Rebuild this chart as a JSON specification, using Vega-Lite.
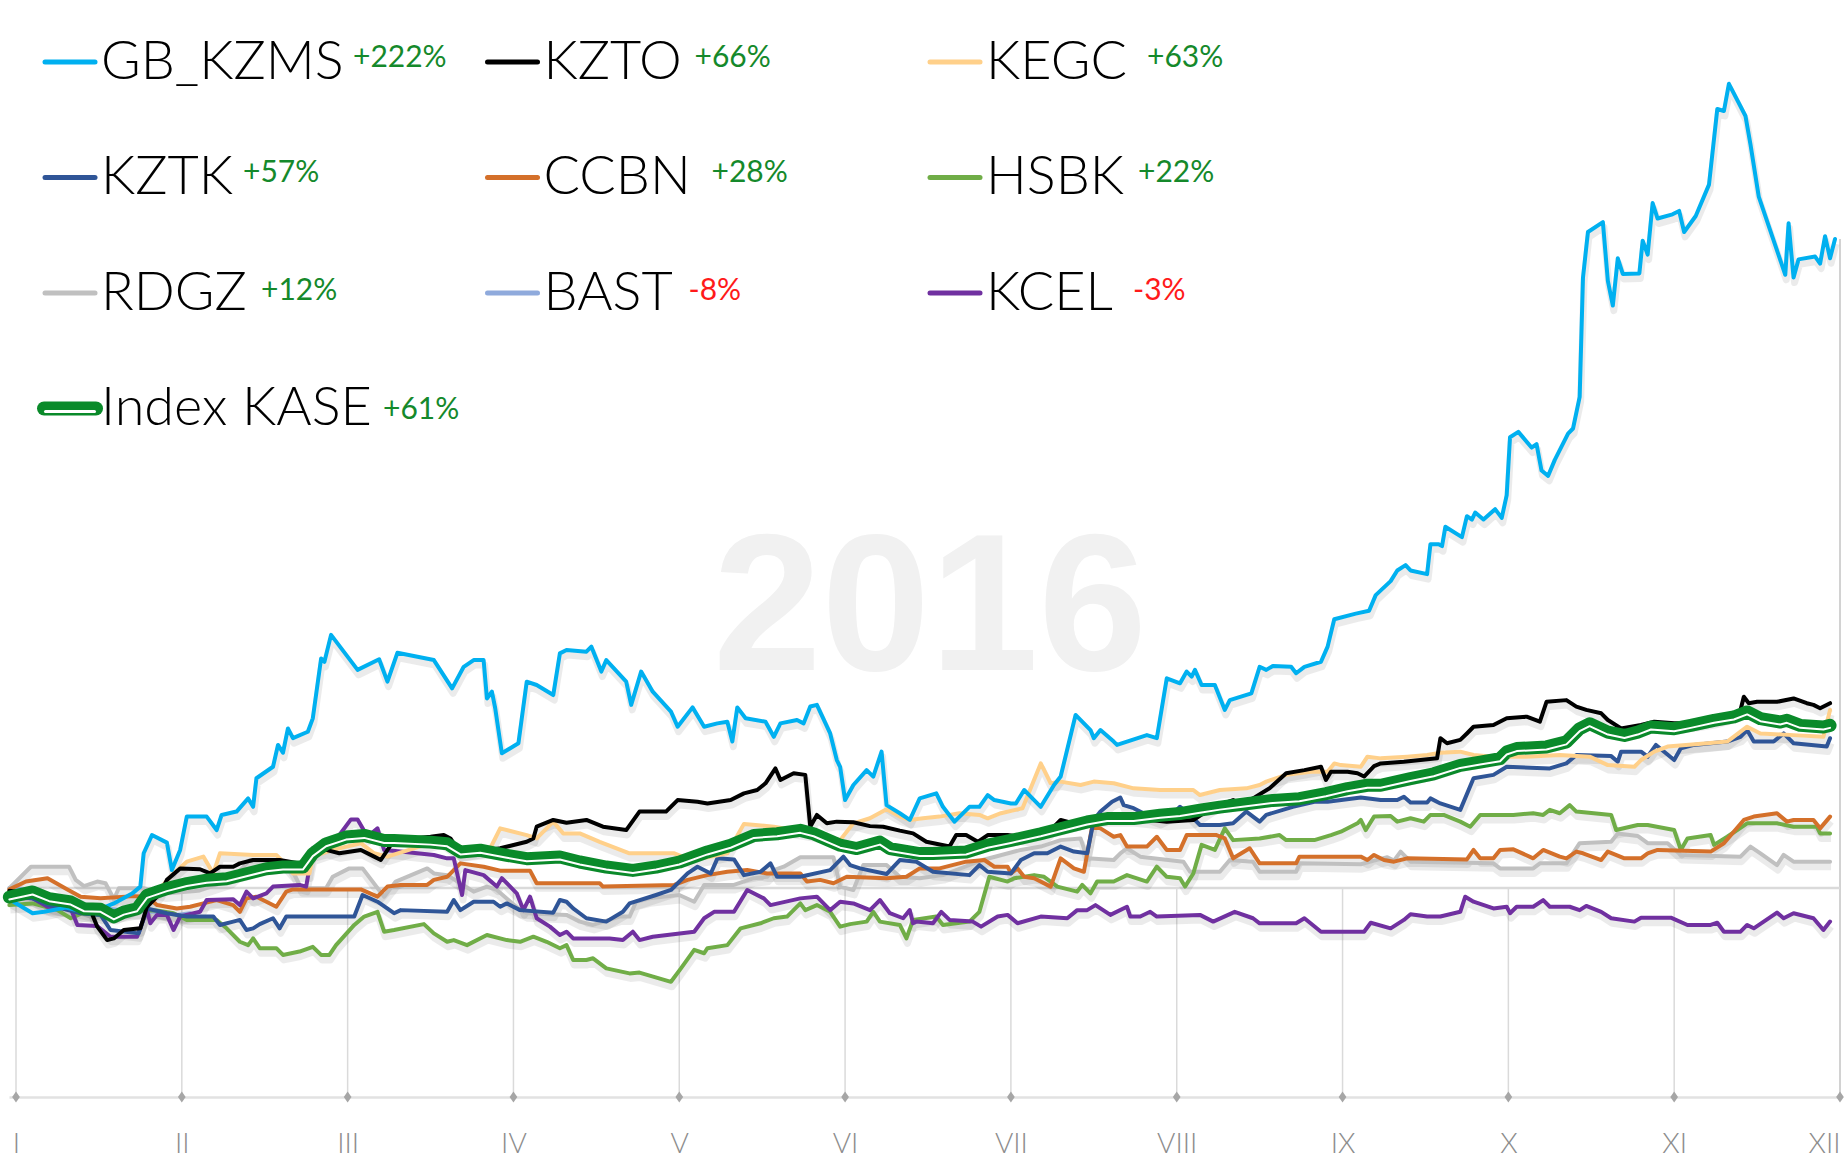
{
"$schema":"https://vega.github.io/schema/vega-lite/v6.json",
"width":1831,"height":1097,
"autosize":{"type":"none"},
"padding":{"left":9,"right":4,"top":0,"bottom":63},
"background":"white",
"config":{"view":{"stroke":null}},
"datasets":{
"legend":[
{"s":"GB_KZMS","pct":"+222%","col":0,"row":0},
{"s":"KZTO","pct":"+66%","col":1,"row":0},
{"s":"KEGC","pct":"+63%","col":2,"row":0},
{"s":"KZTK","pct":"+57%","col":0,"row":1},
{"s":"CCBN","pct":"+28%","col":1,"row":1},
{"s":"HSBK","pct":"+22%","col":2,"row":1},
{"s":"RDGZ","pct":"+12%","col":0,"row":2},
{"s":"BAST","pct":"-8%","col":1,"row":2},
{"s":"KCEL","pct":"-3%","col":2,"row":2},
{"s":"Index KASE","pct":"+61%","col":0,"row":3}
],
"prices":[
{"s":"BAST","t":-0.04,"v":0},{"s":"BAST","t":0.1,"v":-0.8},{"s":"BAST","t":0.2,"v":-2.5},{"s":"BAST","t":0.35,"v":-5},{"s":"BAST","t":0.5,"v":-7},{"s":"BAST","t":0.65,"v":-8},{"s":"BAST","t":0.79,"v":-8.5},{"s":"BAST","t":0.87,"v":-8.6},{"s":"BAST","t":0.97,"v":-9.6},{"s":"BAST","t":1.05,"v":-9},
{"s":"RDGZ","t":-0.04,"v":-0.1},{"s":"RDGZ","t":0.09,"v":7.6},{"s":"RDGZ","t":0.32,"v":7.6},{"s":"RDGZ","t":0.36,"v":2.9},{"s":"RDGZ","t":0.41,"v":0.7},{"s":"RDGZ","t":0.49,"v":2.3},{"s":"RDGZ","t":0.54,"v":1.7},{"s":"RDGZ","t":0.59,"v":-4},{"s":"RDGZ","t":0.62,"v":-0.1},{"s":"RDGZ","t":0.77,"v":-0.1},{"s":"RDGZ","t":0.9,"v":-2},{"s":"RDGZ","t":1.1,"v":-1},{"s":"RDGZ","t":1.3,"v":3},{"s":"RDGZ","t":1.41,"v":10},{"s":"RDGZ","t":1.59,"v":10},{"s":"RDGZ","t":1.65,"v":8.2},{"s":"RDGZ","t":1.72,"v":-0.1},{"s":"RDGZ","t":1.87,"v":-0.1},{"s":"RDGZ","t":1.91,"v":4},{"s":"RDGZ","t":2.01,"v":7},{"s":"RDGZ","t":2.09,"v":7},{"s":"RDGZ","t":2.22,"v":-3.1},{"s":"RDGZ","t":2.29,"v":2.3},{"s":"RDGZ","t":2.48,"v":7},{"s":"RDGZ","t":2.52,"v":5.2},{"s":"RDGZ","t":2.6,"v":4.6},{"s":"RDGZ","t":2.68,"v":1.7},{"s":"RDGZ","t":2.76,"v":-1.3},{"s":"RDGZ","t":2.84,"v":0.5},{"s":"RDGZ","t":2.9,"v":-0.7},{"s":"RDGZ","t":3.04,"v":-7.9},{"s":"RDGZ","t":3.08,"v":-9},{"s":"RDGZ","t":3.32,"v":-9.6},{"s":"RDGZ","t":3.4,"v":-12},{"s":"RDGZ","t":3.48,"v":-13.2},{"s":"RDGZ","t":3.64,"v":-10.2},{"s":"RDGZ","t":3.7,"v":-10.2},{"s":"RDGZ","t":3.74,"v":-4.9},{"s":"RDGZ","t":3.82,"v":-3.7},{"s":"RDGZ","t":4,"v":-2.5},{"s":"RDGZ","t":4.09,"v":-4.9},{"s":"RDGZ","t":4.15,"v":1.1},{"s":"RDGZ","t":4.33,"v":1.1},{"s":"RDGZ","t":4.45,"v":3.5},{"s":"RDGZ","t":4.53,"v":4},{"s":"RDGZ","t":4.57,"v":6.4},{"s":"RDGZ","t":4.63,"v":7.6},{"s":"RDGZ","t":4.73,"v":11},{"s":"RDGZ","t":4.93,"v":11},{"s":"RDGZ","t":4.97,"v":0.5},{"s":"RDGZ","t":5.05,"v":-0.7},{"s":"RDGZ","t":5.11,"v":8.2},{"s":"RDGZ","t":5.25,"v":8.2},{"s":"RDGZ","t":5.33,"v":4},{"s":"RDGZ","t":5.45,"v":3.5},{"s":"RDGZ","t":5.59,"v":4.6},{"s":"RDGZ","t":5.83,"v":10},{"s":"RDGZ","t":6.06,"v":13.6},{"s":"RDGZ","t":6.18,"v":14.8},{"s":"RDGZ","t":6.3,"v":17.1},{"s":"RDGZ","t":6.42,"v":17.7},{"s":"RDGZ","t":6.46,"v":10.6},{"s":"RDGZ","t":6.62,"v":10},{"s":"RDGZ","t":6.66,"v":12.4},{"s":"RDGZ","t":6.7,"v":14.2},{"s":"RDGZ","t":6.78,"v":11.2},{"s":"RDGZ","t":7.04,"v":9.4},{"s":"RDGZ","t":7.08,"v":5.8},{"s":"RDGZ","t":7.26,"v":5.8},{"s":"RDGZ","t":7.32,"v":10},{"s":"RDGZ","t":7.46,"v":9.4},{"s":"RDGZ","t":7.5,"v":5.8},{"s":"RDGZ","t":7.72,"v":5.8},{"s":"RDGZ","t":7.74,"v":8.8},{"s":"RDGZ","t":8.11,"v":8.5},{"s":"RDGZ","t":8.19,"v":9.8},{"s":"RDGZ","t":8.27,"v":11},{"s":"RDGZ","t":8.31,"v":9.8},{"s":"RDGZ","t":8.35,"v":13},{"s":"RDGZ","t":8.41,"v":9.4},{"s":"RDGZ","t":8.91,"v":8.8},{"s":"RDGZ","t":8.95,"v":7},{"s":"RDGZ","t":9.15,"v":7},{"s":"RDGZ","t":9.19,"v":8.8},{"s":"RDGZ","t":9.35,"v":8.8},{"s":"RDGZ","t":9.43,"v":16},{"s":"RDGZ","t":9.62,"v":16.5},{"s":"RDGZ","t":9.66,"v":19.5},{"s":"RDGZ","t":9.78,"v":18.6},{"s":"RDGZ","t":9.84,"v":16},{"s":"RDGZ","t":9.96,"v":16},{"s":"RDGZ","t":10.04,"v":11.8},{"s":"RDGZ","t":10.4,"v":11.2},{"s":"RDGZ","t":10.46,"v":14.8},{"s":"RDGZ","t":10.52,"v":12.4},{"s":"RDGZ","t":10.62,"v":8.2},{"s":"RDGZ","t":10.66,"v":11.8},{"s":"RDGZ","t":10.72,"v":9.4},{"s":"RDGZ","t":10.94,"v":9.4},
{"s":"HSBK","t":-0.04,"v":-6.1},{"s":"HSBK","t":0.1,"v":-5.5},{"s":"HSBK","t":0.25,"v":-7.9},{"s":"HSBK","t":0.33,"v":-10.8},{"s":"HSBK","t":0.4,"v":-9},{"s":"HSBK","t":0.55,"v":-10},{"s":"HSBK","t":0.75,"v":-8},{"s":"HSBK","t":0.85,"v":-8},{"s":"HSBK","t":0.95,"v":-9},{"s":"HSBK","t":1.03,"v":-11.4},{"s":"HSBK","t":1.21,"v":-11.4},{"s":"HSBK","t":1.27,"v":-14.4},{"s":"HSBK","t":1.35,"v":-19.2},{"s":"HSBK","t":1.4,"v":-20.4},{"s":"HSBK","t":1.43,"v":-18},{"s":"HSBK","t":1.47,"v":-21.5},{"s":"HSBK","t":1.57,"v":-21.5},{"s":"HSBK","t":1.61,"v":-23.9},{"s":"HSBK","t":1.71,"v":-22.7},{"s":"HSBK","t":1.79,"v":-21},{"s":"HSBK","t":1.84,"v":-23.9},{"s":"HSBK","t":1.89,"v":-23.9},{"s":"HSBK","t":1.93,"v":-20.4},{"s":"HSBK","t":2.04,"v":-13.2},{"s":"HSBK","t":2.1,"v":-10.2},{"s":"HSBK","t":2.18,"v":-8.5},{"s":"HSBK","t":2.22,"v":-15.6},{"s":"HSBK","t":2.28,"v":-15},{"s":"HSBK","t":2.46,"v":-12.9},{"s":"HSBK","t":2.52,"v":-16.2},{"s":"HSBK","t":2.6,"v":-19.2},{"s":"HSBK","t":2.64,"v":-18.6},{"s":"HSBK","t":2.72,"v":-20.4},{"s":"HSBK","t":2.84,"v":-16.8},{"s":"HSBK","t":2.96,"v":-18.6},{"s":"HSBK","t":3.04,"v":-19.2},{"s":"HSBK","t":3.12,"v":-17.4},{"s":"HSBK","t":3.2,"v":-19.2},{"s":"HSBK","t":3.28,"v":-21.5},{"s":"HSBK","t":3.32,"v":-20.4},{"s":"HSBK","t":3.36,"v":-25.7},{"s":"HSBK","t":3.44,"v":-25.7},{"s":"HSBK","t":3.48,"v":-25.1},{"s":"HSBK","t":3.56,"v":-28.7},{"s":"HSBK","t":3.7,"v":-30.5},{"s":"HSBK","t":3.76,"v":-30.2},{"s":"HSBK","t":3.95,"v":-33.5},{"s":"HSBK","t":4.01,"v":-28.7},{"s":"HSBK","t":4.09,"v":-22.1},{"s":"HSBK","t":4.15,"v":-23.3},{"s":"HSBK","t":4.17,"v":-21.5},{"s":"HSBK","t":4.29,"v":-20.4},{"s":"HSBK","t":4.37,"v":-14.4},{"s":"HSBK","t":4.49,"v":-12.6},{"s":"HSBK","t":4.57,"v":-10.8},{"s":"HSBK","t":4.65,"v":-10.2},{"s":"HSBK","t":4.73,"v":-5.5},{"s":"HSBK","t":4.76,"v":-7.9},{"s":"HSBK","t":4.83,"v":-6.1},{"s":"HSBK","t":4.91,"v":-8.5},{"s":"HSBK","t":4.97,"v":-13.8},{"s":"HSBK","t":5.03,"v":-12.9},{"s":"HSBK","t":5.13,"v":-12},{"s":"HSBK","t":5.17,"v":-8.5},{"s":"HSBK","t":5.21,"v":-12},{"s":"HSBK","t":5.33,"v":-13.2},{"s":"HSBK","t":5.37,"v":-18},{"s":"HSBK","t":5.41,"v":-11.4},{"s":"HSBK","t":5.55,"v":-10.2},{"s":"HSBK","t":5.59,"v":-13.2},{"s":"HSBK","t":5.75,"v":-12},{"s":"HSBK","t":5.81,"v":-8.5},{"s":"HSBK","t":5.87,"v":4},{"s":"HSBK","t":5.98,"v":2.3},{"s":"HSBK","t":6.02,"v":3.5},{"s":"HSBK","t":6.14,"v":4.6},{"s":"HSBK","t":6.2,"v":4},{"s":"HSBK","t":6.28,"v":0.5},{"s":"HSBK","t":6.4,"v":-1.3},{"s":"HSBK","t":6.43,"v":1.1},{"s":"HSBK","t":6.48,"v":-1.9},{"s":"HSBK","t":6.52,"v":2.3},{"s":"HSBK","t":6.62,"v":2.3},{"s":"HSBK","t":6.7,"v":4.6},{"s":"HSBK","t":6.82,"v":2.3},{"s":"HSBK","t":6.88,"v":7.6},{"s":"HSBK","t":6.94,"v":4},{"s":"HSBK","t":7.02,"v":3.5},{"s":"HSBK","t":7.05,"v":0.5},{"s":"HSBK","t":7.1,"v":5.2},{"s":"HSBK","t":7.15,"v":15.4},{"s":"HSBK","t":7.23,"v":13.6},{"s":"HSBK","t":7.29,"v":21.3},{"s":"HSBK","t":7.34,"v":17.1},{"s":"HSBK","t":7.5,"v":17.7},{"s":"HSBK","t":7.62,"v":18.9},{"s":"HSBK","t":7.66,"v":17.1},{"s":"HSBK","t":7.83,"v":17.1},{"s":"HSBK","t":7.93,"v":18.9},{"s":"HSBK","t":7.99,"v":20.1},{"s":"HSBK","t":8.09,"v":23.1},{"s":"HSBK","t":8.11,"v":24.3},{"s":"HSBK","t":8.14,"v":20.7},{"s":"HSBK","t":8.19,"v":25.5},{"s":"HSBK","t":8.29,"v":25.7},{"s":"HSBK","t":8.33,"v":23.7},{"s":"HSBK","t":8.41,"v":24.9},{"s":"HSBK","t":8.49,"v":23.7},{"s":"HSBK","t":8.53,"v":26.1},{"s":"HSBK","t":8.61,"v":26.1},{"s":"HSBK","t":8.71,"v":23.7},{"s":"HSBK","t":8.77,"v":21.9},{"s":"HSBK","t":8.83,"v":26.1},{"s":"HSBK","t":9.03,"v":26.1},{"s":"HSBK","t":9.15,"v":26.7},{"s":"HSBK","t":9.21,"v":26.1},{"s":"HSBK","t":9.25,"v":27.9},{"s":"HSBK","t":9.31,"v":26.7},{"s":"HSBK","t":9.37,"v":29.6},{"s":"HSBK","t":9.41,"v":27.3},{"s":"HSBK","t":9.62,"v":26.1},{"s":"HSBK","t":9.65,"v":20.7},{"s":"HSBK","t":9.78,"v":22.5},{"s":"HSBK","t":9.84,"v":22.5},{"s":"HSBK","t":10,"v":20.7},{"s":"HSBK","t":10.04,"v":13.6},{"s":"HSBK","t":10.08,"v":17.7},{"s":"HSBK","t":10.22,"v":18.9},{"s":"HSBK","t":10.24,"v":15.4},{"s":"HSBK","t":10.32,"v":18.3},{"s":"HSBK","t":10.44,"v":23.1},{"s":"HSBK","t":10.62,"v":23.1},{"s":"HSBK","t":10.72,"v":21.9},{"s":"HSBK","t":10.86,"v":21.9},{"s":"HSBK","t":10.88,"v":19.5},{"s":"HSBK","t":10.94,"v":19.5},
{"s":"CCBN","t":-0.04,"v":-0.5},{"s":"CCBN","t":0.06,"v":2.3},{"s":"CCBN","t":0.19,"v":3.5},{"s":"CCBN","t":0.31,"v":-0.5},{"s":"CCBN","t":0.39,"v":-3.1},{"s":"CCBN","t":0.51,"v":-3.7},{"s":"CCBN","t":0.71,"v":-2.9},{"s":"CCBN","t":0.79,"v":-3.1},{"s":"CCBN","t":0.85,"v":-6.1},{"s":"CCBN","t":0.97,"v":-7.3},{"s":"CCBN","t":1.05,"v":-6.7},{"s":"CCBN","t":1.13,"v":-5.5},{"s":"CCBN","t":1.21,"v":-4.3},{"s":"CCBN","t":1.31,"v":-6.1},{"s":"CCBN","t":1.35,"v":-8.5},{"s":"CCBN","t":1.39,"v":-3.7},{"s":"CCBN","t":1.45,"v":-3.1},{"s":"CCBN","t":1.57,"v":-6.7},{"s":"CCBN","t":1.63,"v":-1.3},{"s":"CCBN","t":1.67,"v":-0.5},{"s":"CCBN","t":2.08,"v":-0.5},{"s":"CCBN","t":2.18,"v":-3.1},{"s":"CCBN","t":2.24,"v":0.5},{"s":"CCBN","t":2.32,"v":1.1},{"s":"CCBN","t":2.48,"v":1.1},{"s":"CCBN","t":2.52,"v":2.9},{"s":"CCBN","t":2.6,"v":4},{"s":"CCBN","t":2.68,"v":8.8},{"s":"CCBN","t":2.82,"v":7.6},{"s":"CCBN","t":2.92,"v":6.2},{"s":"CCBN","t":3.1,"v":6.2},{"s":"CCBN","t":3.14,"v":1.7},{"s":"CCBN","t":3.52,"v":1.7},{"s":"CCBN","t":3.54,"v":0.5},{"s":"CCBN","t":3.97,"v":1.1},{"s":"CCBN","t":4.05,"v":2.9},{"s":"CCBN","t":4.17,"v":4.6},{"s":"CCBN","t":4.29,"v":5.8},{"s":"CCBN","t":4.41,"v":6.4},{"s":"CCBN","t":4.53,"v":5.2},{"s":"CCBN","t":4.73,"v":5.2},{"s":"CCBN","t":4.77,"v":2.3},{"s":"CCBN","t":4.85,"v":2.9},{"s":"CCBN","t":4.93,"v":1.7},{"s":"CCBN","t":5.01,"v":4},{"s":"CCBN","t":5.25,"v":3.5},{"s":"CCBN","t":5.37,"v":4},{"s":"CCBN","t":5.45,"v":7},{"s":"CCBN","t":5.57,"v":7},{"s":"CCBN","t":5.73,"v":9.4},{"s":"CCBN","t":5.84,"v":10},{"s":"CCBN","t":5.9,"v":7.6},{"s":"CCBN","t":5.98,"v":7.6},{"s":"CCBN","t":6,"v":5.2},{"s":"CCBN","t":6.04,"v":7},{"s":"CCBN","t":6.08,"v":4},{"s":"CCBN","t":6.14,"v":3.5},{"s":"CCBN","t":6.24,"v":0.5},{"s":"CCBN","t":6.3,"v":10.6},{"s":"CCBN","t":6.38,"v":7},{"s":"CCBN","t":6.44,"v":5.8},{"s":"CCBN","t":6.49,"v":21.9},{"s":"CCBN","t":6.54,"v":21.3},{"s":"CCBN","t":6.62,"v":18.3},{"s":"CCBN","t":6.66,"v":18.9},{"s":"CCBN","t":6.7,"v":14.8},{"s":"CCBN","t":6.82,"v":14.8},{"s":"CCBN","t":6.88,"v":18.3},{"s":"CCBN","t":6.94,"v":13.6},{"s":"CCBN","t":7.02,"v":13.6},{"s":"CCBN","t":7.06,"v":18.9},{"s":"CCBN","t":7.24,"v":18.9},{"s":"CCBN","t":7.29,"v":17.7},{"s":"CCBN","t":7.34,"v":10.6},{"s":"CCBN","t":7.44,"v":14.2},{"s":"CCBN","t":7.5,"v":8.8},{"s":"CCBN","t":7.72,"v":8.8},{"s":"CCBN","t":7.74,"v":11.2},{"s":"CCBN","t":8.11,"v":11.2},{"s":"CCBN","t":8.15,"v":10},{"s":"CCBN","t":8.19,"v":11.8},{"s":"CCBN","t":8.25,"v":10},{"s":"CCBN","t":8.31,"v":9.4},{"s":"CCBN","t":8.39,"v":10.6},{"s":"CCBN","t":8.75,"v":10.2},{"s":"CCBN","t":8.79,"v":13.6},{"s":"CCBN","t":8.83,"v":10.6},{"s":"CCBN","t":8.91,"v":10.6},{"s":"CCBN","t":8.95,"v":13.6},{"s":"CCBN","t":9.03,"v":13.8},{"s":"CCBN","t":9.15,"v":10.6},{"s":"CCBN","t":9.21,"v":13.6},{"s":"CCBN","t":9.31,"v":11.2},{"s":"CCBN","t":9.35,"v":10.6},{"s":"CCBN","t":9.41,"v":13},{"s":"CCBN","t":9.45,"v":12.4},{"s":"CCBN","t":9.56,"v":10},{"s":"CCBN","t":9.6,"v":13},{"s":"CCBN","t":9.7,"v":10.6},{"s":"CCBN","t":9.8,"v":10.6},{"s":"CCBN","t":9.84,"v":12.4},{"s":"CCBN","t":9.9,"v":13.6},{"s":"CCBN","t":10.22,"v":13},{"s":"CCBN","t":10.3,"v":16},{"s":"CCBN","t":10.42,"v":24.3},{"s":"CCBN","t":10.48,"v":25.5},{"s":"CCBN","t":10.62,"v":26.7},{"s":"CCBN","t":10.68,"v":23.7},{"s":"CCBN","t":10.72,"v":24.3},{"s":"CCBN","t":10.84,"v":24.3},{"s":"CCBN","t":10.88,"v":21.3},{"s":"CCBN","t":10.94,"v":25.5},
{"s":"KCEL","t":-0.04,"v":-3.1},{"s":"KCEL","t":0.1,"v":-3.7},{"s":"KCEL","t":0.19,"v":-6.7},{"s":"KCEL","t":0.33,"v":-7.3},{"s":"KCEL","t":0.37,"v":-13.2},{"s":"KCEL","t":0.49,"v":-13.6},{"s":"KCEL","t":0.57,"v":-17.4},{"s":"KCEL","t":0.73,"v":-17.4},{"s":"KCEL","t":0.79,"v":-7.9},{"s":"KCEL","t":0.81,"v":-12.6},{"s":"KCEL","t":0.85,"v":-9.6},{"s":"KCEL","t":0.91,"v":-9.6},{"s":"KCEL","t":0.95,"v":-15},{"s":"KCEL","t":0.99,"v":-10.2},{"s":"KCEL","t":1.11,"v":-8.5},{"s":"KCEL","t":1.15,"v":-4.3},{"s":"KCEL","t":1.31,"v":-4},{"s":"KCEL","t":1.35,"v":-6.1},{"s":"KCEL","t":1.39,"v":-1.3},{"s":"KCEL","t":1.43,"v":-3.7},{"s":"KCEL","t":1.51,"v":-1.9},{"s":"KCEL","t":1.55,"v":0.5},{"s":"KCEL","t":1.71,"v":1.1},{"s":"KCEL","t":1.75,"v":0.5},{"s":"KCEL","t":1.79,"v":14.2},{"s":"KCEL","t":1.91,"v":15.7},{"s":"KCEL","t":2.02,"v":24.5},{"s":"KCEL","t":2.06,"v":24.5},{"s":"KCEL","t":2.12,"v":18.3},{"s":"KCEL","t":2.18,"v":21.3},{"s":"KCEL","t":2.22,"v":13.6},{"s":"KCEL","t":2.32,"v":13},{"s":"KCEL","t":2.52,"v":11.8},{"s":"KCEL","t":2.6,"v":10.6},{"s":"KCEL","t":2.64,"v":10.6},{"s":"KCEL","t":2.69,"v":-2.5},{"s":"KCEL","t":2.71,"v":6.4},{"s":"KCEL","t":2.82,"v":4.6},{"s":"KCEL","t":2.9,"v":0.5},{"s":"KCEL","t":2.93,"v":3.5},{"s":"KCEL","t":3.02,"v":-1.9},{"s":"KCEL","t":3.06,"v":-7.9},{"s":"KCEL","t":3.1,"v":-3.1},{"s":"KCEL","t":3.14,"v":-10.8},{"s":"KCEL","t":3.22,"v":-13.8},{"s":"KCEL","t":3.28,"v":-16.8},{"s":"KCEL","t":3.32,"v":-15.6},{"s":"KCEL","t":3.36,"v":-18},{"s":"KCEL","t":3.58,"v":-18},{"s":"KCEL","t":3.66,"v":-18.6},{"s":"KCEL","t":3.72,"v":-15.6},{"s":"KCEL","t":3.76,"v":-18.6},{"s":"KCEL","t":3.84,"v":-17.4},{"s":"KCEL","t":4.09,"v":-15.6},{"s":"KCEL","t":4.15,"v":-10.8},{"s":"KCEL","t":4.21,"v":-8.5},{"s":"KCEL","t":4.33,"v":-8.5},{"s":"KCEL","t":4.41,"v":-0.7},{"s":"KCEL","t":4.51,"v":-3.7},{"s":"KCEL","t":4.55,"v":-6.1},{"s":"KCEL","t":4.73,"v":-3.7},{"s":"KCEL","t":4.83,"v":-3.1},{"s":"KCEL","t":4.91,"v":-7.9},{"s":"KCEL","t":4.97,"v":-4.9},{"s":"KCEL","t":5.05,"v":-5.5},{"s":"KCEL","t":5.15,"v":-7.9},{"s":"KCEL","t":5.21,"v":-4.3},{"s":"KCEL","t":5.27,"v":-9},{"s":"KCEL","t":5.35,"v":-10.8},{"s":"KCEL","t":5.39,"v":-7.9},{"s":"KCEL","t":5.41,"v":-12.6},{"s":"KCEL","t":5.43,"v":-12},{"s":"KCEL","t":5.53,"v":-12.6},{"s":"KCEL","t":5.58,"v":-8.5},{"s":"KCEL","t":5.63,"v":-11.4},{"s":"KCEL","t":5.77,"v":-12},{"s":"KCEL","t":5.82,"v":-13.8},{"s":"KCEL","t":5.92,"v":-10.2},{"s":"KCEL","t":5.98,"v":-9.6},{"s":"KCEL","t":6.04,"v":-12.6},{"s":"KCEL","t":6.18,"v":-10.2},{"s":"KCEL","t":6.34,"v":-10.8},{"s":"KCEL","t":6.4,"v":-7.9},{"s":"KCEL","t":6.46,"v":-7.9},{"s":"KCEL","t":6.51,"v":-6.1},{"s":"KCEL","t":6.6,"v":-9.6},{"s":"KCEL","t":6.7,"v":-6.7},{"s":"KCEL","t":6.72,"v":-10.2},{"s":"KCEL","t":6.78,"v":-10.2},{"s":"KCEL","t":6.84,"v":-8.5},{"s":"KCEL","t":6.88,"v":-10.2},{"s":"KCEL","t":7.14,"v":-9.6},{"s":"KCEL","t":7.22,"v":-12},{"s":"KCEL","t":7.35,"v":-8.5},{"s":"KCEL","t":7.46,"v":-10.8},{"s":"KCEL","t":7.5,"v":-12.6},{"s":"KCEL","t":7.72,"v":-12.6},{"s":"KCEL","t":7.77,"v":-10.8},{"s":"KCEL","t":7.87,"v":-15.6},{"s":"KCEL","t":8.13,"v":-15.6},{"s":"KCEL","t":8.17,"v":-12.4},{"s":"KCEL","t":8.29,"v":-14.4},{"s":"KCEL","t":8.37,"v":-11.4},{"s":"KCEL","t":8.41,"v":-9.4},{"s":"KCEL","t":8.51,"v":-10.2},{"s":"KCEL","t":8.59,"v":-10.2},{"s":"KCEL","t":8.71,"v":-8.5},{"s":"KCEL","t":8.74,"v":-3.1},{"s":"KCEL","t":8.79,"v":-4.9},{"s":"KCEL","t":8.91,"v":-7.3},{"s":"KCEL","t":8.99,"v":-6.7},{"s":"KCEL","t":9.01,"v":-9},{"s":"KCEL","t":9.05,"v":-6.7},{"s":"KCEL","t":9.15,"v":-6.7},{"s":"KCEL","t":9.21,"v":-4.3},{"s":"KCEL","t":9.25,"v":-6.7},{"s":"KCEL","t":9.37,"v":-6.7},{"s":"KCEL","t":9.43,"v":-7.9},{"s":"KCEL","t":9.47,"v":-6.4},{"s":"KCEL","t":9.56,"v":-8.5},{"s":"KCEL","t":9.62,"v":-10.8},{"s":"KCEL","t":9.76,"v":-12},{"s":"KCEL","t":9.8,"v":-10.6},{"s":"KCEL","t":9.98,"v":-10.6},{"s":"KCEL","t":10.08,"v":-13.2},{"s":"KCEL","t":10.22,"v":-13.2},{"s":"KCEL","t":10.26,"v":-12.4},{"s":"KCEL","t":10.3,"v":-15.6},{"s":"KCEL","t":10.4,"v":-15.6},{"s":"KCEL","t":10.44,"v":-13.2},{"s":"KCEL","t":10.48,"v":-14.4},{"s":"KCEL","t":10.62,"v":-8.8},{"s":"KCEL","t":10.66,"v":-10.8},{"s":"KCEL","t":10.72,"v":-9},{"s":"KCEL","t":10.84,"v":-10.8},{"s":"KCEL","t":10.9,"v":-15},{"s":"KCEL","t":10.94,"v":-12},
{"s":"KZTK","t":-0.04,"v":-3.1},{"s":"KZTK","t":0.1,"v":-3.7},{"s":"KZTK","t":0.2,"v":-6.1},{"s":"KZTK","t":0.39,"v":-9},{"s":"KZTK","t":0.51,"v":-9.6},{"s":"KZTK","t":0.57,"v":-15},{"s":"KZTK","t":0.74,"v":-16.2},{"s":"KZTK","t":0.79,"v":-7.3},{"s":"KZTK","t":0.91,"v":-9},{"s":"KZTK","t":1.03,"v":-10.2},{"s":"KZTK","t":1.19,"v":-10.2},{"s":"KZTK","t":1.23,"v":-13.2},{"s":"KZTK","t":1.31,"v":-12},{"s":"KZTK","t":1.35,"v":-11.4},{"s":"KZTK","t":1.39,"v":-15},{"s":"KZTK","t":1.43,"v":-14.4},{"s":"KZTK","t":1.47,"v":-12.9},{"s":"KZTK","t":1.55,"v":-10.8},{"s":"KZTK","t":1.59,"v":-14.4},{"s":"KZTK","t":1.63,"v":-10.2},{"s":"KZTK","t":2.04,"v":-10.2},{"s":"KZTK","t":2.09,"v":-2.5},{"s":"KZTK","t":2.18,"v":-4.9},{"s":"KZTK","t":2.28,"v":-9},{"s":"KZTK","t":2.32,"v":-7.9},{"s":"KZTK","t":2.6,"v":-8.5},{"s":"KZTK","t":2.64,"v":-4.3},{"s":"KZTK","t":2.68,"v":-7.9},{"s":"KZTK","t":2.76,"v":-4.9},{"s":"KZTK","t":2.88,"v":-4.9},{"s":"KZTK","t":2.92,"v":-6.7},{"s":"KZTK","t":2.96,"v":-5.5},{"s":"KZTK","t":3.04,"v":-7.9},{"s":"KZTK","t":3.24,"v":-8.8},{"s":"KZTK","t":3.28,"v":-4.3},{"s":"KZTK","t":3.32,"v":-4.9},{"s":"KZTK","t":3.36,"v":-7.3},{"s":"KZTK","t":3.44,"v":-10.8},{"s":"KZTK","t":3.56,"v":-12},{"s":"KZTK","t":3.66,"v":-8.5},{"s":"KZTK","t":3.7,"v":-5.5},{"s":"KZTK","t":3.86,"v":-2.5},{"s":"KZTK","t":3.95,"v":-0.7},{"s":"KZTK","t":4.05,"v":5.2},{"s":"KZTK","t":4.11,"v":7.6},{"s":"KZTK","t":4.19,"v":5.2},{"s":"KZTK","t":4.23,"v":10.6},{"s":"KZTK","t":4.33,"v":10.2},{"s":"KZTK","t":4.39,"v":4.6},{"s":"KZTK","t":4.49,"v":5.8},{"s":"KZTK","t":4.55,"v":8.8},{"s":"KZTK","t":4.59,"v":4},{"s":"KZTK","t":4.73,"v":4},{"s":"KZTK","t":4.91,"v":6.4},{"s":"KZTK","t":4.99,"v":11.2},{"s":"KZTK","t":5.03,"v":8.2},{"s":"KZTK","t":5.09,"v":7},{"s":"KZTK","t":5.25,"v":5},{"s":"KZTK","t":5.33,"v":10},{"s":"KZTK","t":5.43,"v":9.4},{"s":"KZTK","t":5.53,"v":5.8},{"s":"KZTK","t":5.75,"v":4.6},{"s":"KZTK","t":5.81,"v":8.2},{"s":"KZTK","t":5.86,"v":5.8},{"s":"KZTK","t":6,"v":5.2},{"s":"KZTK","t":6.06,"v":10},{"s":"KZTK","t":6.14,"v":12.4},{"s":"KZTK","t":6.22,"v":12.4},{"s":"KZTK","t":6.3,"v":14.8},{"s":"KZTK","t":6.38,"v":13},{"s":"KZTK","t":6.46,"v":12.4},{"s":"KZTK","t":6.5,"v":24.3},{"s":"KZTK","t":6.54,"v":27.3},{"s":"KZTK","t":6.61,"v":30.8},{"s":"KZTK","t":6.66,"v":32.3},{"s":"KZTK","t":6.68,"v":29.6},{"s":"KZTK","t":6.74,"v":28.5},{"s":"KZTK","t":6.82,"v":26.1},{"s":"KZTK","t":6.9,"v":24.3},{"s":"KZTK","t":6.98,"v":26.7},{"s":"KZTK","t":7.02,"v":29},{"s":"KZTK","t":7.08,"v":26.1},{"s":"KZTK","t":7.14,"v":22.5},{"s":"KZTK","t":7.26,"v":22.5},{"s":"KZTK","t":7.34,"v":23.1},{"s":"KZTK","t":7.42,"v":27.3},{"s":"KZTK","t":7.5,"v":23.7},{"s":"KZTK","t":7.54,"v":26.1},{"s":"KZTK","t":7.7,"v":29},{"s":"KZTK","t":7.83,"v":30.8},{"s":"KZTK","t":7.91,"v":30.8},{"s":"KZTK","t":8.11,"v":32.3},{"s":"KZTK","t":8.23,"v":31.4},{"s":"KZTK","t":8.33,"v":31.4},{"s":"KZTK","t":8.37,"v":32.6},{"s":"KZTK","t":8.41,"v":30.5},{"s":"KZTK","t":8.51,"v":30.5},{"s":"KZTK","t":8.53,"v":32},{"s":"KZTK","t":8.59,"v":30.2},{"s":"KZTK","t":8.71,"v":27.9},{"s":"KZTK","t":8.79,"v":39.2},{"s":"KZTK","t":8.91,"v":40.4},{"s":"KZTK","t":8.99,"v":43.3},{"s":"KZTK","t":9.25,"v":42.7},{"s":"KZTK","t":9.35,"v":44.5},{"s":"KZTK","t":9.41,"v":47.5},{"s":"KZTK","t":9.62,"v":47.1},{"s":"KZTK","t":9.66,"v":45.1},{"s":"KZTK","t":9.68,"v":48.7},{"s":"KZTK","t":9.8,"v":48.7},{"s":"KZTK","t":9.84,"v":46.9},{"s":"KZTK","t":9.89,"v":51.1},{"s":"KZTK","t":10,"v":45.7},{"s":"KZTK","t":10.04,"v":49.9},{"s":"KZTK","t":10.12,"v":51.1},{"s":"KZTK","t":10.32,"v":52.3},{"s":"KZTK","t":10.4,"v":54},{"s":"KZTK","t":10.44,"v":56.4},{"s":"KZTK","t":10.48,"v":52.3},{"s":"KZTK","t":10.6,"v":52.3},{"s":"KZTK","t":10.66,"v":55.2},{"s":"KZTK","t":10.72,"v":51.7},{"s":"KZTK","t":10.92,"v":50.5},{"s":"KZTK","t":10.94,"v":53.5},
{"s":"KEGC","t":-0.04,"v":-1},{"s":"KEGC","t":0.2,"v":-3.5},{"s":"KEGC","t":0.45,"v":-8},{"s":"KEGC","t":0.6,"v":-10},{"s":"KEGC","t":0.75,"v":-6},{"s":"KEGC","t":0.87,"v":0},{"s":"KEGC","t":0.95,"v":5.2},{"s":"KEGC","t":1.03,"v":9.4},{"s":"KEGC","t":1.13,"v":11.2},{"s":"KEGC","t":1.19,"v":5.2},{"s":"KEGC","t":1.23,"v":12.4},{"s":"KEGC","t":1.43,"v":11.8},{"s":"KEGC","t":1.57,"v":11.8},{"s":"KEGC","t":1.61,"v":9.4},{"s":"KEGC","t":1.67,"v":5.2},{"s":"KEGC","t":1.77,"v":5.2},{"s":"KEGC","t":1.79,"v":11.2},{"s":"KEGC","t":1.91,"v":13.6},{"s":"KEGC","t":2.08,"v":16},{"s":"KEGC","t":2.16,"v":12.4},{"s":"KEGC","t":2.24,"v":11.2},{"s":"KEGC","t":2.5,"v":16},{"s":"KEGC","t":2.56,"v":17.1},{"s":"KEGC","t":2.68,"v":12.4},{"s":"KEGC","t":2.86,"v":14.2},{"s":"KEGC","t":2.92,"v":21.3},{"s":"KEGC","t":3.08,"v":18.9},{"s":"KEGC","t":3.14,"v":17.7},{"s":"KEGC","t":3.24,"v":23.7},{"s":"KEGC","t":3.3,"v":19.5},{"s":"KEGC","t":3.4,"v":19.5},{"s":"KEGC","t":3.52,"v":16.5},{"s":"KEGC","t":3.7,"v":12.4},{"s":"KEGC","t":3.97,"v":12.4},{"s":"KEGC","t":4.07,"v":10},{"s":"KEGC","t":4.17,"v":11},{"s":"KEGC","t":4.29,"v":12.4},{"s":"KEGC","t":4.39,"v":22.9},{"s":"KEGC","t":4.57,"v":21.9},{"s":"KEGC","t":4.81,"v":19.5},{"s":"KEGC","t":4.97,"v":17.1},{"s":"KEGC","t":5.05,"v":23.1},{"s":"KEGC","t":5.15,"v":24.9},{"s":"KEGC","t":5.25,"v":28.1},{"s":"KEGC","t":5.33,"v":25.5},{"s":"KEGC","t":5.39,"v":24.3},{"s":"KEGC","t":5.47,"v":24.9},{"s":"KEGC","t":5.57,"v":25.5},{"s":"KEGC","t":5.69,"v":26.7},{"s":"KEGC","t":5.81,"v":26.1},{"s":"KEGC","t":5.86,"v":24.9},{"s":"KEGC","t":5.94,"v":26.7},{"s":"KEGC","t":6.07,"v":28.5},{"s":"KEGC","t":6.18,"v":44.5},{"s":"KEGC","t":6.24,"v":37.4},{"s":"KEGC","t":6.3,"v":38},{"s":"KEGC","t":6.42,"v":36.8},{"s":"KEGC","t":6.5,"v":38},{"s":"KEGC","t":6.62,"v":37.4},{"s":"KEGC","t":6.74,"v":35.6},{"s":"KEGC","t":6.9,"v":35},{"s":"KEGC","t":7.1,"v":35},{"s":"KEGC","t":7.14,"v":33.2},{"s":"KEGC","t":7.26,"v":35},{"s":"KEGC","t":7.42,"v":35.6},{"s":"KEGC","t":7.5,"v":36.8},{"s":"KEGC","t":7.54,"v":38},{"s":"KEGC","t":7.66,"v":40.4},{"s":"KEGC","t":7.81,"v":41.5},{"s":"KEGC","t":7.91,"v":41.5},{"s":"KEGC","t":7.95,"v":44.5},{"s":"KEGC","t":7.99,"v":43.9},{"s":"KEGC","t":8.11,"v":43.3},{"s":"KEGC","t":8.15,"v":46.9},{"s":"KEGC","t":8.23,"v":46.3},{"s":"KEGC","t":8.39,"v":46.9},{"s":"KEGC","t":8.51,"v":47.5},{"s":"KEGC","t":8.59,"v":48.3},{"s":"KEGC","t":8.71,"v":48.7},{"s":"KEGC","t":8.79,"v":47.5},{"s":"KEGC","t":8.91,"v":46.9},{"s":"KEGC","t":9.11,"v":46.9},{"s":"KEGC","t":9.31,"v":47.5},{"s":"KEGC","t":9.49,"v":46.9},{"s":"KEGC","t":9.6,"v":43.9},{"s":"KEGC","t":9.76,"v":43.3},{"s":"KEGC","t":9.8,"v":45.7},{"s":"KEGC","t":9.88,"v":48.7},{"s":"KEGC","t":9.96,"v":50.5},{"s":"KEGC","t":10.2,"v":51.7},{"s":"KEGC","t":10.32,"v":52.3},{"s":"KEGC","t":10.44,"v":57.6},{"s":"KEGC","t":10.52,"v":55.2},{"s":"KEGC","t":10.72,"v":54.6},{"s":"KEGC","t":10.9,"v":54},{"s":"KEGC","t":10.94,"v":63.6},
{"s":"KZTO","t":-0.04,"v":-1},{"s":"KZTO","t":0.1,"v":-2},{"s":"KZTO","t":0.2,"v":-4},{"s":"KZTO","t":0.32,"v":-5},{"s":"KZTO","t":0.45,"v":-8},{"s":"KZTO","t":0.49,"v":-13.8},{"s":"KZTO","t":0.55,"v":-18.6},{"s":"KZTO","t":0.59,"v":-18},{"s":"KZTO","t":0.65,"v":-15},{"s":"KZTO","t":0.75,"v":-14.4},{"s":"KZTO","t":0.79,"v":-6.7},{"s":"KZTO","t":0.87,"v":-1.9},{"s":"KZTO","t":0.91,"v":2.9},{"s":"KZTO","t":0.99,"v":7},{"s":"KZTO","t":1.11,"v":6.7},{"s":"KZTO","t":1.17,"v":5.2},{"s":"KZTO","t":1.23,"v":7.6},{"s":"KZTO","t":1.31,"v":7.6},{"s":"KZTO","t":1.35,"v":8.8},{"s":"KZTO","t":1.43,"v":10},{"s":"KZTO","t":1.59,"v":10},{"s":"KZTO","t":1.71,"v":8.8},{"s":"KZTO","t":1.79,"v":12.4},{"s":"KZTO","t":1.87,"v":13.6},{"s":"KZTO","t":1.95,"v":12.4},{"s":"KZTO","t":2.08,"v":13.6},{"s":"KZTO","t":2.16,"v":11.2},{"s":"KZTO","t":2.2,"v":10},{"s":"KZTO","t":2.28,"v":17.1},{"s":"KZTO","t":2.5,"v":18.3},{"s":"KZTO","t":2.58,"v":18.9},{"s":"KZTO","t":2.62,"v":17.7},{"s":"KZTO","t":2.68,"v":12.4},{"s":"KZTO","t":2.86,"v":13.6},{"s":"KZTO","t":2.92,"v":14.2},{"s":"KZTO","t":3.08,"v":16.5},{"s":"KZTO","t":3.12,"v":17.7},{"s":"KZTO","t":3.14,"v":21.9},{"s":"KZTO","t":3.24,"v":24.3},{"s":"KZTO","t":3.32,"v":23.3},{"s":"KZTO","t":3.44,"v":24.3},{"s":"KZTO","t":3.54,"v":21.9},{"s":"KZTO","t":3.68,"v":20.7},{"s":"KZTO","t":3.76,"v":27.3},{"s":"KZTO","t":3.92,"v":27.3},{"s":"KZTO","t":3.99,"v":31.4},{"s":"KZTO","t":4.11,"v":30.8},{"s":"KZTO","t":4.17,"v":30.2},{"s":"KZTO","t":4.31,"v":31.4},{"s":"KZTO","t":4.39,"v":33.8},{"s":"KZTO","t":4.47,"v":35},{"s":"KZTO","t":4.52,"v":37.4},{"s":"KZTO","t":4.58,"v":42.7},{"s":"KZTO","t":4.61,"v":38.6},{"s":"KZTO","t":4.69,"v":41},{"s":"KZTO","t":4.76,"v":40.4},{"s":"KZTO","t":4.79,"v":21.9},{"s":"KZTO","t":4.83,"v":26.1},{"s":"KZTO","t":4.89,"v":23.1},{"s":"KZTO","t":4.95,"v":23.7},{"s":"KZTO","t":5.05,"v":23.5},{"s":"KZTO","t":5.15,"v":22.1},{"s":"KZTO","t":5.23,"v":21.9},{"s":"KZTO","t":5.33,"v":20.5},{"s":"KZTO","t":5.41,"v":19.5},{"s":"KZTO","t":5.49,"v":16.5},{"s":"KZTO","t":5.63,"v":14.8},{"s":"KZTO","t":5.67,"v":18.9},{"s":"KZTO","t":5.73,"v":18.9},{"s":"KZTO","t":5.8,"v":16.5},{"s":"KZTO","t":5.86,"v":18.9},{"s":"KZTO","t":5.98,"v":18.9},{"s":"KZTO","t":6.14,"v":17.7},{"s":"KZTO","t":6.22,"v":19.5},{"s":"KZTO","t":6.3,"v":24.3},{"s":"KZTO","t":6.38,"v":23.1},{"s":"KZTO","t":6.46,"v":24.3},{"s":"KZTO","t":6.52,"v":24.9},{"s":"KZTO","t":6.74,"v":24.9},{"s":"KZTO","t":6.94,"v":23.7},{"s":"KZTO","t":7.1,"v":24.3},{"s":"KZTO","t":7.22,"v":29},{"s":"KZTO","t":7.34,"v":31.4},{"s":"KZTO","t":7.38,"v":30.2},{"s":"KZTO","t":7.46,"v":32},{"s":"KZTO","t":7.56,"v":35.6},{"s":"KZTO","t":7.66,"v":41},{"s":"KZTO","t":7.77,"v":42.1},{"s":"KZTO","t":7.87,"v":43.3},{"s":"KZTO","t":7.9,"v":38.6},{"s":"KZTO","t":7.93,"v":41.5},{"s":"KZTO","t":8.03,"v":41.5},{"s":"KZTO","t":8.09,"v":41},{"s":"KZTO","t":8.13,"v":39.8},{"s":"KZTO","t":8.19,"v":43.5},{"s":"KZTO","t":8.23,"v":44.5},{"s":"KZTO","t":8.37,"v":45.1},{"s":"KZTO","t":8.47,"v":45.7},{"s":"KZTO","t":8.57,"v":46.3},{"s":"KZTO","t":8.59,"v":53.5},{"s":"KZTO","t":8.63,"v":51.7},{"s":"KZTO","t":8.71,"v":52.9},{"s":"KZTO","t":8.75,"v":55.2},{"s":"KZTO","t":8.79,"v":57.6},{"s":"KZTO","t":8.91,"v":58.2},{"s":"KZTO","t":8.99,"v":60.6},{"s":"KZTO","t":9.11,"v":61.2},{"s":"KZTO","t":9.19,"v":59.4},{"s":"KZTO","t":9.23,"v":66.5},{"s":"KZTO","t":9.35,"v":67.1},{"s":"KZTO","t":9.41,"v":64.8},{"s":"KZTO","t":9.47,"v":63.6},{"s":"KZTO","t":9.56,"v":62.4},{"s":"KZTO","t":9.6,"v":60},{"s":"KZTO","t":9.68,"v":57},{"s":"KZTO","t":9.8,"v":58.2},{"s":"KZTO","t":9.88,"v":59.4},{"s":"KZTO","t":10,"v":58.8},{"s":"KZTO","t":10.12,"v":58.8},{"s":"KZTO","t":10.24,"v":60},{"s":"KZTO","t":10.32,"v":61.2},{"s":"KZTO","t":10.4,"v":63.6},{"s":"KZTO","t":10.42,"v":68.3},{"s":"KZTO","t":10.45,"v":66},{"s":"KZTO","t":10.5,"v":66.5},{"s":"KZTO","t":10.62,"v":66.5},{"s":"KZTO","t":10.72,"v":67.7},{"s":"KZTO","t":10.8,"v":66},{"s":"KZTO","t":10.84,"v":65.4},{"s":"KZTO","t":10.88,"v":64.2},{"s":"KZTO","t":10.94,"v":66},
{"s":"GB_KZMS","t":-0.04,"v":-4},{"s":"GB_KZMS","t":0.1,"v":-9},{"s":"GB_KZMS","t":0.17,"v":-8.5},{"s":"GB_KZMS","t":0.3,"v":-7},{"s":"GB_KZMS","t":0.45,"v":-9},{"s":"GB_KZMS","t":0.59,"v":-5.5},{"s":"GB_KZMS","t":0.7,"v":-2},{"s":"GB_KZMS","t":0.75,"v":0.5},{"s":"GB_KZMS","t":0.77,"v":12.4},{"s":"GB_KZMS","t":0.82,"v":18.9},{"s":"GB_KZMS","t":0.91,"v":16.2},{"s":"GB_KZMS","t":0.94,"v":6.4},{"s":"GB_KZMS","t":0.99,"v":13.6},{"s":"GB_KZMS","t":1.03,"v":25.5},{"s":"GB_KZMS","t":1.15,"v":25.5},{"s":"GB_KZMS","t":1.21,"v":20.7},{"s":"GB_KZMS","t":1.24,"v":26.1},{"s":"GB_KZMS","t":1.33,"v":27.3},{"s":"GB_KZMS","t":1.4,"v":32},{"s":"GB_KZMS","t":1.43,"v":29},{"s":"GB_KZMS","t":1.45,"v":39.2},{"s":"GB_KZMS","t":1.55,"v":43.3},{"s":"GB_KZMS","t":1.58,"v":51.1},{"s":"GB_KZMS","t":1.61,"v":48.3},{"s":"GB_KZMS","t":1.64,"v":57},{"s":"GB_KZMS","t":1.67,"v":53.5},{"s":"GB_KZMS","t":1.76,"v":55.8},{"s":"GB_KZMS","t":1.79,"v":60.6},{"s":"GB_KZMS","t":1.84,"v":82},{"s":"GB_KZMS","t":1.86,"v":80.8},{"s":"GB_KZMS","t":1.9,"v":90.4},{"s":"GB_KZMS","t":2.06,"v":77.9},{"s":"GB_KZMS","t":2.19,"v":81.7},{"s":"GB_KZMS","t":2.24,"v":73.7},{"s":"GB_KZMS","t":2.3,"v":84},{"s":"GB_KZMS","t":2.52,"v":81.4},{"s":"GB_KZMS","t":2.63,"v":71.3},{"s":"GB_KZMS","t":2.7,"v":79},{"s":"GB_KZMS","t":2.76,"v":81.4},{"s":"GB_KZMS","t":2.82,"v":81.4},{"s":"GB_KZMS","t":2.84,"v":67.7},{"s":"GB_KZMS","t":2.87,"v":70.1},{"s":"GB_KZMS","t":2.89,"v":64.2},{"s":"GB_KZMS","t":2.93,"v":48.1},{"s":"GB_KZMS","t":3.03,"v":51.7},{"s":"GB_KZMS","t":3.08,"v":73.7},{"s":"GB_KZMS","t":3.14,"v":72.5},{"s":"GB_KZMS","t":3.24,"v":68.9},{"s":"GB_KZMS","t":3.28,"v":83.8},{"s":"GB_KZMS","t":3.32,"v":85},{"s":"GB_KZMS","t":3.44,"v":84.4},{"s":"GB_KZMS","t":3.47,"v":86.2},{"s":"GB_KZMS","t":3.53,"v":77.3},{"s":"GB_KZMS","t":3.56,"v":81.4},{"s":"GB_KZMS","t":3.68,"v":73.7},{"s":"GB_KZMS","t":3.71,"v":65.4},{"s":"GB_KZMS","t":3.77,"v":77.3},{"s":"GB_KZMS","t":3.84,"v":70.1},{"s":"GB_KZMS","t":3.95,"v":63},{"s":"GB_KZMS","t":3.99,"v":57.6},{"s":"GB_KZMS","t":4.08,"v":64.5},{"s":"GB_KZMS","t":4.15,"v":57.6},{"s":"GB_KZMS","t":4.23,"v":58.8},{"s":"GB_KZMS","t":4.29,"v":59.4},{"s":"GB_KZMS","t":4.32,"v":52.3},{"s":"GB_KZMS","t":4.35,"v":64.5},{"s":"GB_KZMS","t":4.4,"v":60.6},{"s":"GB_KZMS","t":4.52,"v":59.4},{"s":"GB_KZMS","t":4.57,"v":54},{"s":"GB_KZMS","t":4.61,"v":58.8},{"s":"GB_KZMS","t":4.71,"v":60},{"s":"GB_KZMS","t":4.75,"v":58.8},{"s":"GB_KZMS","t":4.79,"v":64.8},{"s":"GB_KZMS","t":4.83,"v":65.4},{"s":"GB_KZMS","t":4.91,"v":55.2},{"s":"GB_KZMS","t":4.95,"v":45.7},{"s":"GB_KZMS","t":4.97,"v":43.3},{"s":"GB_KZMS","t":5,"v":31.4},{"s":"GB_KZMS","t":5.05,"v":36.8},{"s":"GB_KZMS","t":5.13,"v":42.1},{"s":"GB_KZMS","t":5.17,"v":39.8},{"s":"GB_KZMS","t":5.22,"v":48.7},{"s":"GB_KZMS","t":5.25,"v":29.6},{"s":"GB_KZMS","t":5.33,"v":26.7},{"s":"GB_KZMS","t":5.39,"v":24.3},{"s":"GB_KZMS","t":5.45,"v":32},{"s":"GB_KZMS","t":5.55,"v":33.8},{"s":"GB_KZMS","t":5.59,"v":29},{"s":"GB_KZMS","t":5.66,"v":23.7},{"s":"GB_KZMS","t":5.75,"v":29},{"s":"GB_KZMS","t":5.81,"v":29},{"s":"GB_KZMS","t":5.86,"v":33.2},{"s":"GB_KZMS","t":5.9,"v":31.4},{"s":"GB_KZMS","t":6,"v":30.2},{"s":"GB_KZMS","t":6.03,"v":30.2},{"s":"GB_KZMS","t":6.08,"v":35},{"s":"GB_KZMS","t":6.14,"v":31.4},{"s":"GB_KZMS","t":6.18,"v":29},{"s":"GB_KZMS","t":6.26,"v":36.8},{"s":"GB_KZMS","t":6.3,"v":39.8},{"s":"GB_KZMS","t":6.39,"v":61.8},{"s":"GB_KZMS","t":6.48,"v":56.4},{"s":"GB_KZMS","t":6.5,"v":53.5},{"s":"GB_KZMS","t":6.54,"v":56.4},{"s":"GB_KZMS","t":6.62,"v":52.3},{"s":"GB_KZMS","t":6.64,"v":51.1},{"s":"GB_KZMS","t":6.7,"v":52.3},{"s":"GB_KZMS","t":6.82,"v":54.6},{"s":"GB_KZMS","t":6.88,"v":53.5},{"s":"GB_KZMS","t":6.94,"v":74.9},{"s":"GB_KZMS","t":7.02,"v":73.1},{"s":"GB_KZMS","t":7.06,"v":77.3},{"s":"GB_KZMS","t":7.09,"v":75.5},{"s":"GB_KZMS","t":7.11,"v":77.9},{"s":"GB_KZMS","t":7.15,"v":72.5},{"s":"GB_KZMS","t":7.23,"v":72.5},{"s":"GB_KZMS","t":7.29,"v":63.6},{"s":"GB_KZMS","t":7.32,"v":67.1},{"s":"GB_KZMS","t":7.45,"v":69.5},{"s":"GB_KZMS","t":7.5,"v":79},{"s":"GB_KZMS","t":7.54,"v":77.9},{"s":"GB_KZMS","t":7.58,"v":79.3},{"s":"GB_KZMS","t":7.69,"v":79},{"s":"GB_KZMS","t":7.72,"v":76.7},{"s":"GB_KZMS","t":7.77,"v":79},{"s":"GB_KZMS","t":7.87,"v":80.8},{"s":"GB_KZMS","t":7.91,"v":86.2},{"s":"GB_KZMS","t":7.95,"v":96},{"s":"GB_KZMS","t":8.08,"v":98},{"s":"GB_KZMS","t":8.16,"v":99},{"s":"GB_KZMS","t":8.2,"v":104.6},{"s":"GB_KZMS","t":8.29,"v":109.6},{"s":"GB_KZMS","t":8.33,"v":113.4},{"s":"GB_KZMS","t":8.38,"v":115.3},{"s":"GB_KZMS","t":8.41,"v":113.4},{"s":"GB_KZMS","t":8.51,"v":112.1},{"s":"GB_KZMS","t":8.53,"v":122.8},{"s":"GB_KZMS","t":8.58,"v":122.8},{"s":"GB_KZMS","t":8.6,"v":122.1},{"s":"GB_KZMS","t":8.62,"v":129},{"s":"GB_KZMS","t":8.72,"v":125.3},{"s":"GB_KZMS","t":8.75,"v":132.8},{"s":"GB_KZMS","t":8.78,"v":131.6},{"s":"GB_KZMS","t":8.8,"v":134.1},{"s":"GB_KZMS","t":8.85,"v":131.6},{"s":"GB_KZMS","t":8.92,"v":135.3},{"s":"GB_KZMS","t":8.96,"v":132.2},{"s":"GB_KZMS","t":8.99,"v":140.3},{"s":"GB_KZMS","t":9.01,"v":161},{"s":"GB_KZMS","t":9.06,"v":162.9},{"s":"GB_KZMS","t":9.14,"v":157.3},{"s":"GB_KZMS","t":9.17,"v":158.5},{"s":"GB_KZMS","t":9.2,"v":149.1},{"s":"GB_KZMS","t":9.24,"v":147.2},{"s":"GB_KZMS","t":9.28,"v":152.9},{"s":"GB_KZMS","t":9.36,"v":162.3},{"s":"GB_KZMS","t":9.39,"v":164.1},{"s":"GB_KZMS","t":9.43,"v":175.4},{"s":"GB_KZMS","t":9.45,"v":218},{"s":"GB_KZMS","t":9.48,"v":234.3},{"s":"GB_KZMS","t":9.57,"v":237.8},{"s":"GB_KZMS","t":9.6,"v":216.8},{"s":"GB_KZMS","t":9.63,"v":208},{"s":"GB_KZMS","t":9.66,"v":224.9},{"s":"GB_KZMS","t":9.69,"v":219.3},{"s":"GB_KZMS","t":9.79,"v":219.5},{"s":"GB_KZMS","t":9.81,"v":231.2},{"s":"GB_KZMS","t":9.84,"v":226.2},{"s":"GB_KZMS","t":9.87,"v":244.6},{"s":"GB_KZMS","t":9.9,"v":239.1},{"s":"GB_KZMS","t":9.99,"v":240.6},{"s":"GB_KZMS","t":10.03,"v":241.8},{"s":"GB_KZMS","t":10.06,"v":234.3},{"s":"GB_KZMS","t":10.13,"v":240},{"s":"GB_KZMS","t":10.21,"v":251.2},{"s":"GB_KZMS","t":10.26,"v":278.2},{"s":"GB_KZMS","t":10.3,"v":277.5},{"s":"GB_KZMS","t":10.33,"v":287.2},{"s":"GB_KZMS","t":10.43,"v":275.7},{"s":"GB_KZMS","t":10.46,"v":265.6},{"s":"GB_KZMS","t":10.51,"v":246.9},{"s":"GB_KZMS","t":10.67,"v":219},{"s":"GB_KZMS","t":10.69,"v":237.4},{"s":"GB_KZMS","t":10.72,"v":218},{"s":"GB_KZMS","t":10.75,"v":224.5},{"s":"GB_KZMS","t":10.85,"v":225.5},{"s":"GB_KZMS","t":10.88,"v":223},{"s":"GB_KZMS","t":10.91,"v":232.8},{"s":"GB_KZMS","t":10.94,"v":224.9},{"s":"GB_KZMS","t":10.97,"v":231.8},
{"s":"Index KASE","t":-0.04,"v":-2.5},{"s":"Index KASE","t":0.1,"v":-0.7},{"s":"Index KASE","t":0.2,"v":-3.1},{"s":"Index KASE","t":0.33,"v":-4.3},{"s":"Index KASE","t":0.41,"v":-6.7},{"s":"Index KASE","t":0.51,"v":-6.9},{"s":"Index KASE","t":0.59,"v":-9.6},{"s":"Index KASE","t":0.65,"v":-7.9},{"s":"Index KASE","t":0.73,"v":-6.7},{"s":"Index KASE","t":0.79,"v":-1.9},{"s":"Index KASE","t":0.91,"v":0.5},{"s":"Index KASE","t":1.03,"v":2.3},{"s":"Index KASE","t":1.15,"v":3.5},{"s":"Index KASE","t":1.27,"v":4},{"s":"Index KASE","t":1.39,"v":5.8},{"s":"Index KASE","t":1.51,"v":7.6},{"s":"Index KASE","t":1.61,"v":8.2},{"s":"Index KASE","t":1.73,"v":8.2},{"s":"Index KASE","t":1.79,"v":13},{"s":"Index KASE","t":1.87,"v":16.5},{"s":"Index KASE","t":1.99,"v":18.9},{"s":"Index KASE","t":2.1,"v":19.5},{"s":"Index KASE","t":2.22,"v":17.7},{"s":"Index KASE","t":2.28,"v":17.7},{"s":"Index KASE","t":2.5,"v":17.1},{"s":"Index KASE","t":2.6,"v":16.5},{"s":"Index KASE","t":2.68,"v":13.6},{"s":"Index KASE","t":2.8,"v":14.2},{"s":"Index KASE","t":2.96,"v":12.4},{"s":"Index KASE","t":3.08,"v":11.2},{"s":"Index KASE","t":3.28,"v":11.8},{"s":"Index KASE","t":3.4,"v":10},{"s":"Index KASE","t":3.56,"v":8.2},{"s":"Index KASE","t":3.72,"v":7},{"s":"Index KASE","t":3.86,"v":8.2},{"s":"Index KASE","t":4,"v":10},{"s":"Index KASE","t":4.17,"v":13.6},{"s":"Index KASE","t":4.31,"v":16},{"s":"Index KASE","t":4.45,"v":19.5},{"s":"Index KASE","t":4.59,"v":20.1},{"s":"Index KASE","t":4.73,"v":21.3},{"s":"Index KASE","t":4.81,"v":20.1},{"s":"Index KASE","t":4.97,"v":16},{"s":"Index KASE","t":5.07,"v":14.8},{"s":"Index KASE","t":5.21,"v":17.1},{"s":"Index KASE","t":5.27,"v":14.8},{"s":"Index KASE","t":5.45,"v":13},{"s":"Index KASE","t":5.53,"v":13},{"s":"Index KASE","t":5.73,"v":13.6},{"s":"Index KASE","t":5.86,"v":16},{"s":"Index KASE","t":6,"v":17.7},{"s":"Index KASE","t":6.18,"v":20.1},{"s":"Index KASE","t":6.34,"v":22.5},{"s":"Index KASE","t":6.46,"v":24.3},{"s":"Index KASE","t":6.58,"v":25.5},{"s":"Index KASE","t":6.74,"v":25.5},{"s":"Index KASE","t":6.9,"v":26.7},{"s":"Index KASE","t":7.02,"v":27.3},{"s":"Index KASE","t":7.14,"v":28.5},{"s":"Index KASE","t":7.26,"v":29.6},{"s":"Index KASE","t":7.42,"v":30.8},{"s":"Index KASE","t":7.58,"v":32},{"s":"Index KASE","t":7.74,"v":32.6},{"s":"Index KASE","t":7.9,"v":34.4},{"s":"Index KASE","t":8.03,"v":36.2},{"s":"Index KASE","t":8.15,"v":37.4},{"s":"Index KASE","t":8.23,"v":37.4},{"s":"Index KASE","t":8.41,"v":39.8},{"s":"Index KASE","t":8.55,"v":41.5},{"s":"Index KASE","t":8.71,"v":44.5},{"s":"Index KASE","t":8.83,"v":45.7},{"s":"Index KASE","t":8.95,"v":46.9},{"s":"Index KASE","t":8.99,"v":49.3},{"s":"Index KASE","t":9.05,"v":50.5},{"s":"Index KASE","t":9.23,"v":51.1},{"s":"Index KASE","t":9.35,"v":52.9},{"s":"Index KASE","t":9.43,"v":57.6},{"s":"Index KASE","t":9.49,"v":59.4},{"s":"Index KASE","t":9.6,"v":56.4},{"s":"Index KASE","t":9.7,"v":55.2},{"s":"Index KASE","t":9.78,"v":56.4},{"s":"Index KASE","t":9.86,"v":58.2},{"s":"Index KASE","t":10,"v":57.6},{"s":"Index KASE","t":10.1,"v":58.8},{"s":"Index KASE","t":10.24,"v":60.6},{"s":"Index KASE","t":10.36,"v":61.8},{"s":"Index KASE","t":10.44,"v":63.6},{"s":"Index KASE","t":10.52,"v":61.2},{"s":"Index KASE","t":10.64,"v":60},{"s":"Index KASE","t":10.68,"v":60.6},{"s":"Index KASE","t":10.76,"v":58.8},{"s":"Index KASE","t":10.9,"v":58.2},{"s":"Index KASE","t":10.94,"v":58.8}
]},
"layer":[
{
"layer":[
{"data":{"values":[{"label":"2016"}]},"mark":{"type":"text","align":"center","baseline":"alphabetic","font":"Liberation Sans","fontWeight":"bold","fontSize":195,"color":"#f1f1f1"},
"encoding":{"x":{"datum":5.512,"type":"quantitative","scale":{"domain":[-0.0422,11],"nice":false,"zero":false},"axis":{"values":[0,1,2,3,4,5,6,7,8,9,10,11],"labelExpr":"['I','II','III','IV','V','VI','VII','VIII','IX','X','XI','XII'][datum.value]","grid":false,"ticks":false,"tickSize":0,"domain":true,"domainColor":"#e2e2e2","domainWidth":2.5,"labelFont":"Lato","labelFontWeight":300,"labelFontSize":28,"labelColor":"#8c8c8c","labelPadding":55,"labelBaseline":"alphabetic","labelOverlap":false,"labelBound":false,"labelFlush":true,"title":null}},"y":{"datum":77.9,"type":"quantitative","scale":{"domain":[-74.64,317.14],"nice":false,"zero":false},"axis":null},"text":{"field":"label"}}},
{"data":{"values":[{"month":0},{"month":1},{"month":2},{"month":3},{"month":4},{"month":5},{"month":6},{"month":7},{"month":8},{"month":9},{"month":10}]},"mark":{"type":"rule","color":"#dadada","strokeWidth":1.5},
"encoding":{"x":{"field":"month","type":"quantitative","scale":{"domain":[-0.0422,11],"nice":false,"zero":false},"axis":{"values":[0,1,2,3,4,5,6,7,8,9,10,11],"labelExpr":"['I','II','III','IV','V','VI','VII','VIII','IX','X','XI','XII'][datum.value]","grid":false,"ticks":false,"tickSize":0,"domain":true,"domainColor":"#e2e2e2","domainWidth":2.5,"labelFont":"Lato","labelFontWeight":300,"labelFontSize":28,"labelColor":"#8c8c8c","labelPadding":55,"labelBaseline":"alphabetic","labelOverlap":false,"labelBound":false,"labelFlush":true,"title":null}},"y":{"datum":0,"type":"quantitative","scale":{"domain":[-74.64,317.14],"nice":false,"zero":false},"axis":null},"y2":{"datum":-74.64}}},
{"data":{"values":[{"month":11}]},"mark":{"type":"rule","color":"#d2d2d2","strokeWidth":2},
"encoding":{"x":{"field":"month","type":"quantitative","scale":{"domain":[-0.0422,11],"nice":false,"zero":false},"axis":{"values":[0,1,2,3,4,5,6,7,8,9,10,11],"labelExpr":"['I','II','III','IV','V','VI','VII','VIII','IX','X','XI','XII'][datum.value]","grid":false,"ticks":false,"tickSize":0,"domain":true,"domainColor":"#e2e2e2","domainWidth":2.5,"labelFont":"Lato","labelFontWeight":300,"labelFontSize":28,"labelColor":"#8c8c8c","labelPadding":55,"labelBaseline":"alphabetic","labelOverlap":false,"labelBound":false,"labelFlush":true,"title":null}},"y":{"datum":231.8,"type":"quantitative","scale":{"domain":[-74.64,317.14],"nice":false,"zero":false},"axis":null},"y2":{"datum":-74.64}}},
{"data":{"values":[{"label":"zero"}]},"mark":{"type":"rule","color":"#dadada","strokeWidth":2.5},
"encoding":{"x":{"datum":-0.0422,"type":"quantitative","scale":{"domain":[-0.0422,11],"nice":false,"zero":false},"axis":{"values":[0,1,2,3,4,5,6,7,8,9,10,11],"labelExpr":"['I','II','III','IV','V','VI','VII','VIII','IX','X','XI','XII'][datum.value]","grid":false,"ticks":false,"tickSize":0,"domain":true,"domainColor":"#e2e2e2","domainWidth":2.5,"labelFont":"Lato","labelFontWeight":300,"labelFontSize":28,"labelColor":"#8c8c8c","labelPadding":55,"labelBaseline":"alphabetic","labelOverlap":false,"labelBound":false,"labelFlush":true,"title":null}},"x2":{"datum":11},"y":{"datum":0,"type":"quantitative","scale":{"domain":[-74.64,317.14],"nice":false,"zero":false},"axis":null}}},
{"data":{"name":"prices"},
"encoding":{
"x":{"field":"t","type":"quantitative","scale":{"domain":[-0.0422,11],"nice":false,"zero":false},"axis":{"values":[0,1,2,3,4,5,6,7,8,9,10,11],"labelExpr":"['I','II','III','IV','V','VI','VII','VIII','IX','X','XI','XII'][datum.value]","grid":false,"ticks":false,"tickSize":0,"domain":true,"domainColor":"#e2e2e2","domainWidth":2.5,"labelFont":"Lato","labelFontWeight":300,"labelFontSize":28,"labelColor":"#8c8c8c","labelPadding":55,"labelBaseline":"alphabetic","labelOverlap":false,"labelBound":false,"labelFlush":true,"title":null}},
"y":{"field":"v","type":"quantitative","scale":{"domain":[-74.64,317.14],"nice":false,"zero":false},"axis":null}
},
"layer":[
{"mark":{"type":"line","color":"#000000","opacity":0.08,"strokeWidth":7,"yOffset":5,"xOffset":1,"strokeJoin":"round"},"encoding":{"detail":{"field":"s","type":"nominal"}}},
{"transform":[{"filter":"datum.s !== 'Index KASE'"}],"mark":{"type":"line","strokeWidth":4,"strokeJoin":"round","strokeCap":"round"},
"encoding":{"color":{"field":"s","type":"nominal","legend":null,"scale":{"domain":["GB_KZMS","KZTO","KEGC","KZTK","CCBN","HSBK","RDGZ","BAST","KCEL","Index KASE"],"range":["#00b0f0","#000000","#ffd08a","#2f5597","#d4702a","#70ad47","#c0c0c0","#8faadc","#7030a0","#0a8a2a"]}}}},
{"transform":[{"filter":"datum.s === 'Index KASE'"}],"mark":{"type":"line","color":"#0a8a2a","strokeWidth":13,"yOffset":2,"strokeJoin":"round","strokeCap":"round"}},
{"transform":[{"filter":"datum.s === 'Index KASE'"}],"mark":{"type":"line","color":"#ffffff","strokeWidth":2,"yOffset":4.5,"strokeJoin":"round","strokeCap":"round"}}
]
},
{"data":{"values":[{"month":0},{"month":1},{"month":2},{"month":3},{"month":4},{"month":5},{"month":6},{"month":7},{"month":8},{"month":9},{"month":10},{"month":11}]},"mark":{"type":"point","shape":"M0,-1L0.7,0L0,1L-0.7,0Z","filled":true,"size":121,"color":"#a6a6a6","opacity":1},
"encoding":{"x":{"field":"month","type":"quantitative","scale":{"domain":[-0.0422,11],"nice":false,"zero":false},"axis":{"values":[0,1,2,3,4,5,6,7,8,9,10,11],"labelExpr":"['I','II','III','IV','V','VI','VII','VIII','IX','X','XI','XII'][datum.value]","grid":false,"ticks":false,"tickSize":0,"domain":true,"domainColor":"#e2e2e2","domainWidth":2.5,"labelFont":"Lato","labelFontWeight":300,"labelFontSize":28,"labelColor":"#8c8c8c","labelPadding":55,"labelBaseline":"alphabetic","labelOverlap":false,"labelBound":false,"labelFlush":true,"title":null}},
"y":{"datum":-74.64,"type":"quantitative","scale":{"domain":[-74.64,317.14],"nice":false,"zero":false},"axis":null}}}
]
},
{
"data":{"name":"legend"},
"encoding":{
"x":{"field":"col","type":"quantitative","scale":{"domain":[-0.1379,4.0],"nice":false,"zero":false},"axis":null},
"y":{"field":"row","type":"quantitative","scale":{"domain":[-0.684,8.814],"nice":false,"zero":false,"reverse":true},"axis":null}
},
"layer":[
{"transform":[{"filter":"datum.s !== 'Index KASE'"}],"mark":{"type":"point","shape":"stroke","size":2500,"strokeWidth":5,"strokeCap":"round","filled":false,"opacity":1,"yOffset":-17},"encoding":{"color":{"field":"s","type":"nominal","legend":null}}},
{"transform":[{"filter":"datum.s === 'Index KASE'"}],"mark":{"type":"point","shape":"stroke","size":2704,"strokeWidth":14,"strokeCap":"round","filled":false,"opacity":1,"color":"#0a8a2a","yOffset":-17}},
{"transform":[{"filter":"datum.s === 'Index KASE'"}],"mark":{"type":"point","shape":"stroke","size":2400,"strokeWidth":3,"strokeCap":"round","filled":false,"opacity":1,"color":"#ffffff","yOffset":-14}},
{"mark":{"type":"text","align":"left","baseline":"alphabetic","dx":31,"fontSize":54,"font":"Lato","fontWeight":300,"color":"#000000"},"encoding":{"text":{"field":"s"}}},
{"transform":[{"filter":"datum.s === 'GB_KZMS'"}],"mark":{"type":"text","align":"left","baseline":"alphabetic","dx":283,"dy":-12,"fontSize":30,"font":"Lato","fontWeight":400,"color":"#15892b"},"encoding":{"text":{"field":"pct"}}},
{"transform":[{"filter":"datum.s === 'KZTO'"}],"mark":{"type":"text","align":"left","baseline":"alphabetic","dx":182,"dy":-12,"fontSize":30,"font":"Lato","fontWeight":400,"color":"#15892b"},"encoding":{"text":{"field":"pct"}}},
{"transform":[{"filter":"datum.s === 'KEGC'"}],"mark":{"type":"text","align":"left","baseline":"alphabetic","dx":192,"dy":-12,"fontSize":30,"font":"Lato","fontWeight":400,"color":"#15892b"},"encoding":{"text":{"field":"pct"}}},
{"transform":[{"filter":"datum.s === 'KZTK'"}],"mark":{"type":"text","align":"left","baseline":"alphabetic","dx":173,"dy":-12,"fontSize":30,"font":"Lato","fontWeight":400,"color":"#15892b"},"encoding":{"text":{"field":"pct"}}},
{"transform":[{"filter":"datum.s === 'CCBN'"}],"mark":{"type":"text","align":"left","baseline":"alphabetic","dx":199,"dy":-12,"fontSize":30,"font":"Lato","fontWeight":400,"color":"#15892b"},"encoding":{"text":{"field":"pct"}}},
{"transform":[{"filter":"datum.s === 'HSBK'"}],"mark":{"type":"text","align":"left","baseline":"alphabetic","dx":183,"dy":-12,"fontSize":30,"font":"Lato","fontWeight":400,"color":"#15892b"},"encoding":{"text":{"field":"pct"}}},
{"transform":[{"filter":"datum.s === 'RDGZ'"}],"mark":{"type":"text","align":"left","baseline":"alphabetic","dx":191,"dy":-10,"fontSize":30,"font":"Lato","fontWeight":400,"color":"#15892b"},"encoding":{"text":{"field":"pct"}}},
{"transform":[{"filter":"datum.s === 'BAST'"}],"mark":{"type":"text","align":"left","baseline":"alphabetic","dx":176,"dy":-10,"fontSize":30,"font":"Lato","fontWeight":400,"color":"#ff1a1a"},"encoding":{"text":{"field":"pct"}}},
{"transform":[{"filter":"datum.s === 'KCEL'"}],"mark":{"type":"text","align":"left","baseline":"alphabetic","dx":178,"dy":-10,"fontSize":30,"font":"Lato","fontWeight":400,"color":"#ff1a1a"},"encoding":{"text":{"field":"pct"}}},
{"transform":[{"filter":"datum.s === 'Index KASE'"}],"mark":{"type":"text","align":"left","baseline":"alphabetic","dx":313,"dy":-6,"fontSize":30,"font":"Lato","fontWeight":400,"color":"#15892b"},"encoding":{"text":{"field":"pct"}}}
]
}
],
"resolve":{"scale":{"x":"independent","y":"independent"}}
}
